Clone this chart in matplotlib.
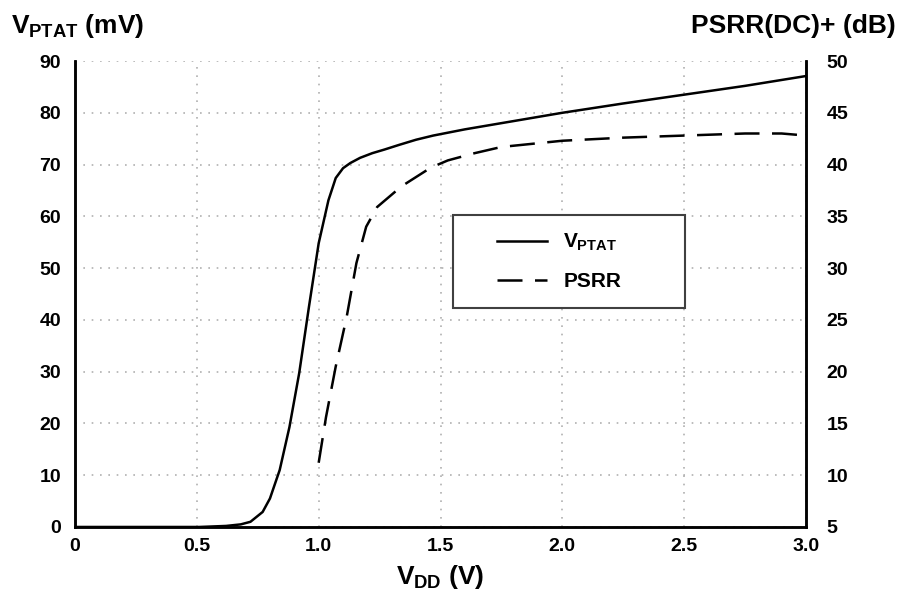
import matplotlib.pyplot as plt
from matplotlib.patches import Rectangle
from matplotlib.ticker import FixedLocator

plt.rcParams["font.family"] = ["Liberation Sans", "DejaVu Sans"]
plt.rcParams["font.weight"] = "bold"
plt.rcParams["mathtext.fontset"] = "custom"
plt.rcParams["mathtext.rm"] = "Liberation Sans:bold"
plt.rcParams["mathtext.it"] = "Liberation Sans:bold"
plt.rcParams["mathtext.bf"] = "Liberation Sans:bold"

# V_PTAT (mV) vs VDD (V)
vdd_ptat = [0.0, 0.3, 0.51, 0.62, 0.68, 0.72, 0.77, 0.80, 0.84, 0.88, 0.92, 0.96,
            1.00, 1.04, 1.07, 1.10, 1.13, 1.17, 1.22, 1.27, 1.33, 1.40, 1.47,
            1.60, 1.75, 2.0, 2.25, 2.5, 2.75, 3.0]
v_ptat = [0.0, 0.0, 0.0, 0.2, 0.5, 1.0, 2.9, 5.5, 11.0, 19.3, 29.7, 42.5,
          54.8, 63.1, 67.4, 69.3, 70.3, 71.3, 72.2, 72.9, 73.8, 74.8, 75.6,
          76.8, 78.0, 80.0, 81.8, 83.5, 85.2, 87.1]

# PSRR (dB) vs VDD (V)
vdd_psrr = [1.00, 1.03, 1.07, 1.115, 1.155, 1.195, 1.24, 1.29, 1.34, 1.40,
            1.46, 1.53, 1.64, 1.75, 2.0, 2.25, 2.5, 2.75, 2.9, 3.0]
psrr = [11.2, 15.6, 20.5, 25.3, 30.5, 34.0, 35.9, 36.9, 37.9, 38.8,
        39.7, 40.4, 41.1, 41.7, 42.3, 42.6, 42.8, 43.0, 43.0, 42.8]

x_ticks = [0, 0.5, 1.0, 1.5, 2.0, 2.5, 3.0]
x_labels = ["0", "0.5", "1.0", "1.5", "2.0", "2.5", "3.0"]
left_ticks = [0, 10, 20, 30, 40, 50, 60, 70, 80, 90]
right_ticks = [5, 10, 15, 20, 25, 30, 35, 40, 45, 50]

fig = plt.figure(figsize=(9.05, 5.97), dpi=100)
ax = fig.add_axes([0.0829, 0.1173, 0.8077, 0.7805])
ax2 = ax.twinx()

l1, = ax.plot(vdd_ptat, v_ptat, color="black", lw=1.8, label="$V_{PTAT}$")
l2, = ax2.plot(vdd_psrr, psrr, color="black", lw=1.8, dashes=(10, 5), label="PSRR")

ax.set_xlim(0, 3.0)
ax.set_ylim(0, 90)
ax2.set_ylim(5, 50)
ax.xaxis.set_major_locator(FixedLocator(x_ticks))
ax.set_xticklabels(x_labels)
ax.yaxis.set_major_locator(FixedLocator(left_ticks))
ax2.yaxis.set_major_locator(FixedLocator(right_ticks))

ax.grid(True, color="#b0b0b0", linestyle=(0, (1, 4)), lw=1.2)

for a in (ax, ax2):
    a.spines["top"].set_visible(False)
    for s in ("left", "right", "bottom"):
        a.spines[s].set_linewidth(1.8)
    a.tick_params(length=0, labelsize=14, pad=10)
ax.tick_params(axis="x", pad=8)
ax2.tick_params(axis="y", pad=15)

fig.text(0.012, 0.945, "$V_{PTAT}$ (mV)", fontsize=19, fontweight="bold", ha="left")
fig.text(0.99, 0.945, "PSRR(DC)+ (dB)", fontsize=19, fontweight="bold", ha="right")
ax.set_xlabel("$V_{DD}$ (V)", fontsize=19, fontweight="bold", labelpad=6)

# legend box
ax2.add_patch(Rectangle((0.517, 0.470), 0.317, 0.200, transform=ax.transAxes,
                        facecolor="white", edgecolor="#404040", lw=1.5, zorder=5))
leg = ax2.legend(handles=[l1, l2], loc="center", bbox_to_anchor=(0.662, 0.57),
                 fontsize=15, frameon=False, handlelength=2.4,
                 labelspacing=0.9, handletextpad=0.8)
leg.set_zorder(6)

fig.savefig("out.png", dpi=100)
